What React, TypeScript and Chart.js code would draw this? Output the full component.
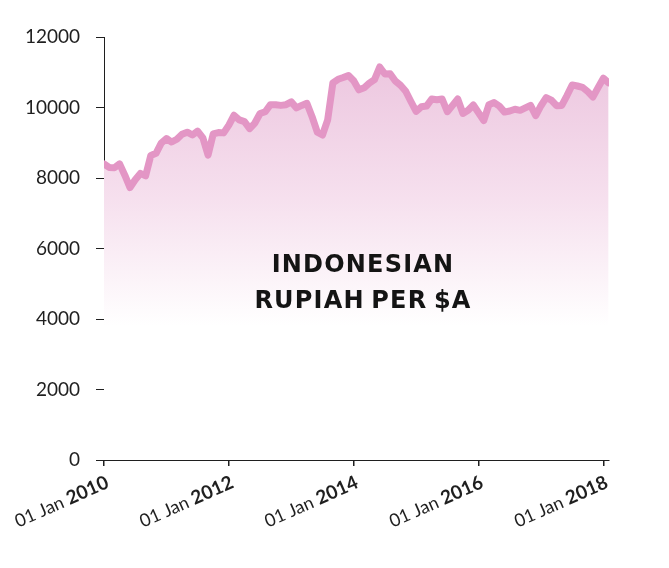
import { useEffect, useRef } from "react";
import { Chart, registerables, type Plugin } from "chart.js";

Chart.register(...registerables);

// monthly observations, Jan 2010 .. Feb 2018
const START_YEAR = 2010;
const RUPIAH_PER_AUD = [
  8400, 8300, 8290, 8400, 8080, 7730, 7950, 8130, 8060, 8640, 8700, 8990,
  9120, 9020, 9100, 9240, 9300, 9220, 9330, 9140, 8650, 9250, 9290, 9280,
  9500, 9780, 9650, 9600, 9400, 9560, 9830, 9880, 10080, 10080, 10060, 10080,
  10160, 9990, 10060, 10120, 9740, 9300, 9220, 9650, 10700, 10800, 10850, 10910,
  10760, 10500, 10560, 10690, 10790, 11150, 10950, 10960, 10750, 10630, 10460, 10170,
  9890, 10020, 10040, 10240, 10220, 10240, 9880, 10060, 10240, 9830, 9920, 10070,
  9850, 9630, 10080, 10140, 10040, 9870, 9900, 9950, 9920, 9990, 10060, 9770,
  10050, 10280, 10210, 10050, 10060, 10340, 10640, 10610, 10570, 10450, 10300, 10570,
  10830, 10700,
];

const X_TICKS = [2010, 2012, 2014, 2016, 2018];
const X_TICK_PREFIX = "01 Jan";
const Y_TICKS = [0, 2000, 4000, 6000, 8000, 10000, 12000];

const TITLE_LINES = ["INDONESIAN", "RUPIAH PER $A"];

const LINE_COLOR = "#e396c5";
const AXIS_COLOR = "#1f1f1f";
const FONT = "Lato, 'Open Sans', sans-serif";

// x labels have a light "01 Jan" and a bold year, so draw them ourselves
const xLabelPlugin: Plugin<"line"> = {
  id: "xLabels",
  afterDraw(chart) {
    const { ctx, scales, chartArea } = chart;
    const x = scales.x;
    const baseY = chartArea.bottom + 27;
    X_TICKS.forEach((year) => {
      const px = x.getPixelForValue(year) + 6;
      ctx.save();
      ctx.translate(px, baseY);
      ctx.rotate((-24 * Math.PI) / 180);
      ctx.textAlign = "right";
      ctx.textBaseline = "alphabetic";
      ctx.fillStyle = AXIS_COLOR;
      ctx.font = `bold 19px ${FONT}`;
      const yearText = String(year);
      const yearWidth = ctx.measureText(yearText).width;
      ctx.fillText(yearText, 0, 0);
      ctx.font = `18px ${FONT}`;
      ctx.fillText(`${X_TICK_PREFIX} `, -yearWidth, 0);
      ctx.restore();
    });
  },
};

export default function App() {
  const canvasRef = useRef<HTMLCanvasElement>(null);

  useEffect(() => {
    if (!canvasRef.current) return;

    const chart = new Chart(canvasRef.current, {
      type: "line",
      data: {
        datasets: [
          {
            data: RUPIAH_PER_AUD.map((v, i) => ({ x: START_YEAR + i / 12, y: v })),
            borderColor: LINE_COLOR,
            borderWidth: 7,
            borderJoinStyle: "round",
            borderCapStyle: "round",
            pointRadius: 0,
            tension: 0,
            fill: "origin",
            backgroundColor: (ctx) => {
              const { chart: c } = ctx;
              if (!c.chartArea) return "transparent";
              const y = c.scales.y;
              const g = c.ctx.createLinearGradient(
                0,
                y.getPixelForValue(11000),
                0,
                y.getPixelForValue(3800),
              );
              g.addColorStop(0, "rgb(237,200,224)");
              g.addColorStop(0.5, "rgb(246,224,238)");
              g.addColorStop(1, "rgb(255,255,255)");
              return g;
            },
          },
        ],
      },
      options: {
        animation: false,
        responsive: true,
        maintainAspectRatio: false,
        layout: { padding: { top: 29, right: 52, left: 0, bottom: 0 } },
        plugins: {
          legend: { display: false },
          tooltip: { enabled: false },
        },
        scales: {
          x: {
            type: "linear",
            min: START_YEAR,
            max: 2018.09,
            afterBuildTicks: (scale) => {
              scale.ticks = X_TICKS.map((v) => ({ value: v }));
            },
            afterFit: (scale) => {
              scale.height = 100;
            },
            ticks: { display: false },
            grid: {
              drawOnChartArea: false,
              drawTicks: true,
              tickLength: 6,
              color: AXIS_COLOR,
              lineWidth: 1.5,
            },
            border: { display: true, color: AXIS_COLOR, width: 1 },
          },
          y: {
            min: 0,
            max: 12000,
            afterBuildTicks: (scale) => {
              scale.ticks = Y_TICKS.map((v) => ({ value: v }));
            },
            afterFit: (scale) => {
              scale.width = 96;
            },
            ticks: {
              padding: 16,
              color: AXIS_COLOR,
              font: { family: FONT, size: 19 },
              callback: (v) => String(v),
            },
            grid: {
              drawOnChartArea: false,
              drawTicks: true,
              tickLength: 8,
              color: AXIS_COLOR,
              lineWidth: 1,
            },
            border: { display: true, color: AXIS_COLOR, width: 1 },
          },
        },
      },
      plugins: [xLabelPlugin],
    });

    return () => chart.destroy();
  }, []);

  return (
    <div style={{ position: "relative", width: 653, height: 552 }}>
      <canvas ref={canvasRef}></canvas>
      <div
        style={{
          position: "absolute",
          left: 355,
          top: 238,
          transform: "translateX(-50%)",
          textAlign: "center",
          fontFamily: "'DejaVu Sans', sans-serif",
          fontWeight: 700,
          fontSize: 24,
          lineHeight: "36px",
          letterSpacing: 1.2,
          wordSpacing: -3,
          color: "#141414",
          whiteSpace: "nowrap",
          pointerEvents: "none",
        }}
      >
        {TITLE_LINES.map((line) => (
          <div key={line}>{line}</div>
        ))}
      </div>
    </div>
  );
}
